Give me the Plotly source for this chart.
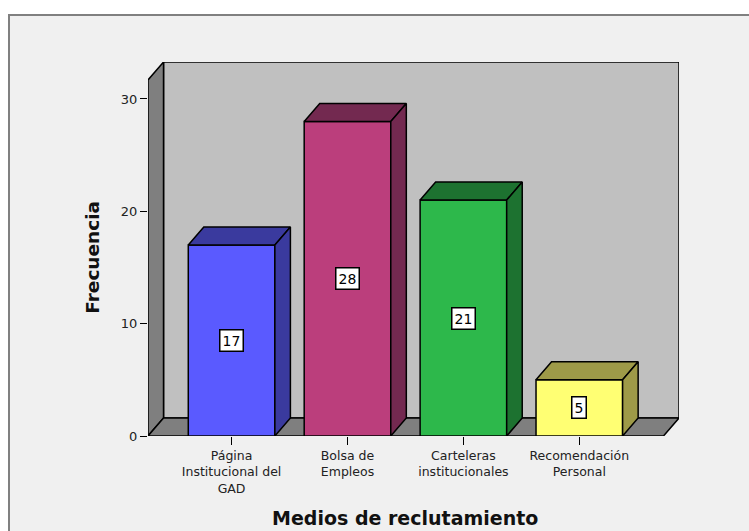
import plotly.graph_objects as go

categories = ["Página<br>Institucional del<br>GAD", "Bolsa de<br>Empleos",
              "Carteleras<br>institucionales", "Recomendación<br>Personal"]
values = [17, 28, 21, 5]
front_colors = ["#5a5aff", "#bb3e7c", "#2db84b", "#ffff73"]
dark_colors = ["#3a3a9e", "#732950", "#1d7230", "#9e9a48"]
y_ticks = [0, 10, 20, 30]

# 3D box geometry (axis units)
X0, XF = -0.721, 3.726
DX, DY = 0.134, 1.6
XMAX = XF + DX
YTOPF = 31.69
YMAX = YTOPF + DY
BW = 0.747

FONT = "DejaVu Sans, Verdana, sans-serif"

fig = go.Figure()

xs = list(range(len(values)))
fig.add_trace(go.Bar(x=xs, y=values, width=BW, marker_color=front_colors,
                     marker_line=dict(color="black", width=1.5), hoverinfo="skip"))

for i, v in enumerate(values):
    l, r = i - BW / 2, i + BW / 2
    # top face
    fig.add_trace(go.Scatter(x=[l, r, r + DX, l + DX, l], y=[v, v, v + DY, v + DY, v],
                             mode="lines", fill="toself", fillcolor=dark_colors[i],
                             line=dict(color="black", width=1.5), hoverinfo="skip"))
    # side face
    fig.add_trace(go.Scatter(x=[r, r + DX, r + DX, r, r], y=[0, DY, v + DY, v, 0],
                             mode="lines", fill="toself", fillcolor=dark_colors[i],
                             line=dict(color="black", width=1.5), hoverinfo="skip"))
    fig.add_annotation(x=i, y=v / 2, text=str(v), showarrow=False,
                       font=dict(family=FONT, size=14, color="black"),
                       bgcolor="white", bordercolor="black", borderwidth=1.5, borderpad=2)

shapes = [
    # outer frame
    dict(type="rect", xref="paper", yref="paper", x0=(9 - 148) / 531, x1=1.2,
         y0=-0.3, y1=(436.5 - 15) / 374.5,
         fillcolor="#f0f0f0", line=dict(color="#808080", width=2), layer="below"),
    # back wall
    dict(type="rect", xref="x", yref="y", x0=X0 + DX, x1=XMAX, y0=DY, y1=YMAX,
         fillcolor="#c0c0c0", line=dict(color="black", width=1.5), layer="below"),
    # side wall
    dict(type="path", xref="x", yref="y",
         path=f"M{X0},0 L{X0},{YTOPF} L{X0+DX},{YMAX} L{X0+DX},{DY} Z",
         fillcolor="#7f7f7f", line=dict(color="black", width=1.5), layer="below"),
    # floor
    dict(type="path", xref="x", yref="y",
         path=f"M{X0},0 L{XF},0 L{XMAX},{DY} L{X0+DX},{DY} Z",
         fillcolor="#7f7f7f", line=dict(color="black", width=1.5), layer="below"),
]

fig.add_annotation(xref="paper", yref="paper", x=(93 - 148) / 531, y=(436.5 - 258) / 374.5,
                   xanchor="center", yanchor="middle",
                   text="<b>Frecuencia</b>", textangle=-90, showarrow=False,
                   font=dict(family=FONT, size=18.5, color="#111"))
fig.add_annotation(xref="paper", yref="paper", x=(405 - 148) / 531, y=(436.5 - 519) / 374.5,
                   xanchor="center", yanchor="middle",
                   text="<b>Medios de reclutamiento</b>", showarrow=False,
                   font=dict(family=FONT, size=19, color="#111"))

fig.update_layout(
    width=749, height=531,
    margin=dict(l=148, r=70, t=62, b=94.5),
    paper_bgcolor="white", plot_bgcolor="rgba(0,0,0,0)",
    showlegend=False, shapes=shapes,
    font=dict(family=FONT, size=12.5, color="#222"),
    xaxis=dict(range=[X0, XMAX], tickvals=xs, ticktext=categories, showgrid=False,
               zeroline=False, showline=False, ticks="outside", ticklen=8, tickwidth=1,
               tickcolor="black", fixedrange=True, tickfont=dict(size=12.5, color="#222")),
    yaxis=dict(range=[0, YMAX], tickvals=y_ticks, showgrid=False, zeroline=False,
               showline=False, ticks="outside", ticklen=7, tickwidth=1, tickcolor="black",
               fixedrange=True, tickfont=dict(size=13, color="#222")),
)

fig.write_html("out.html")
